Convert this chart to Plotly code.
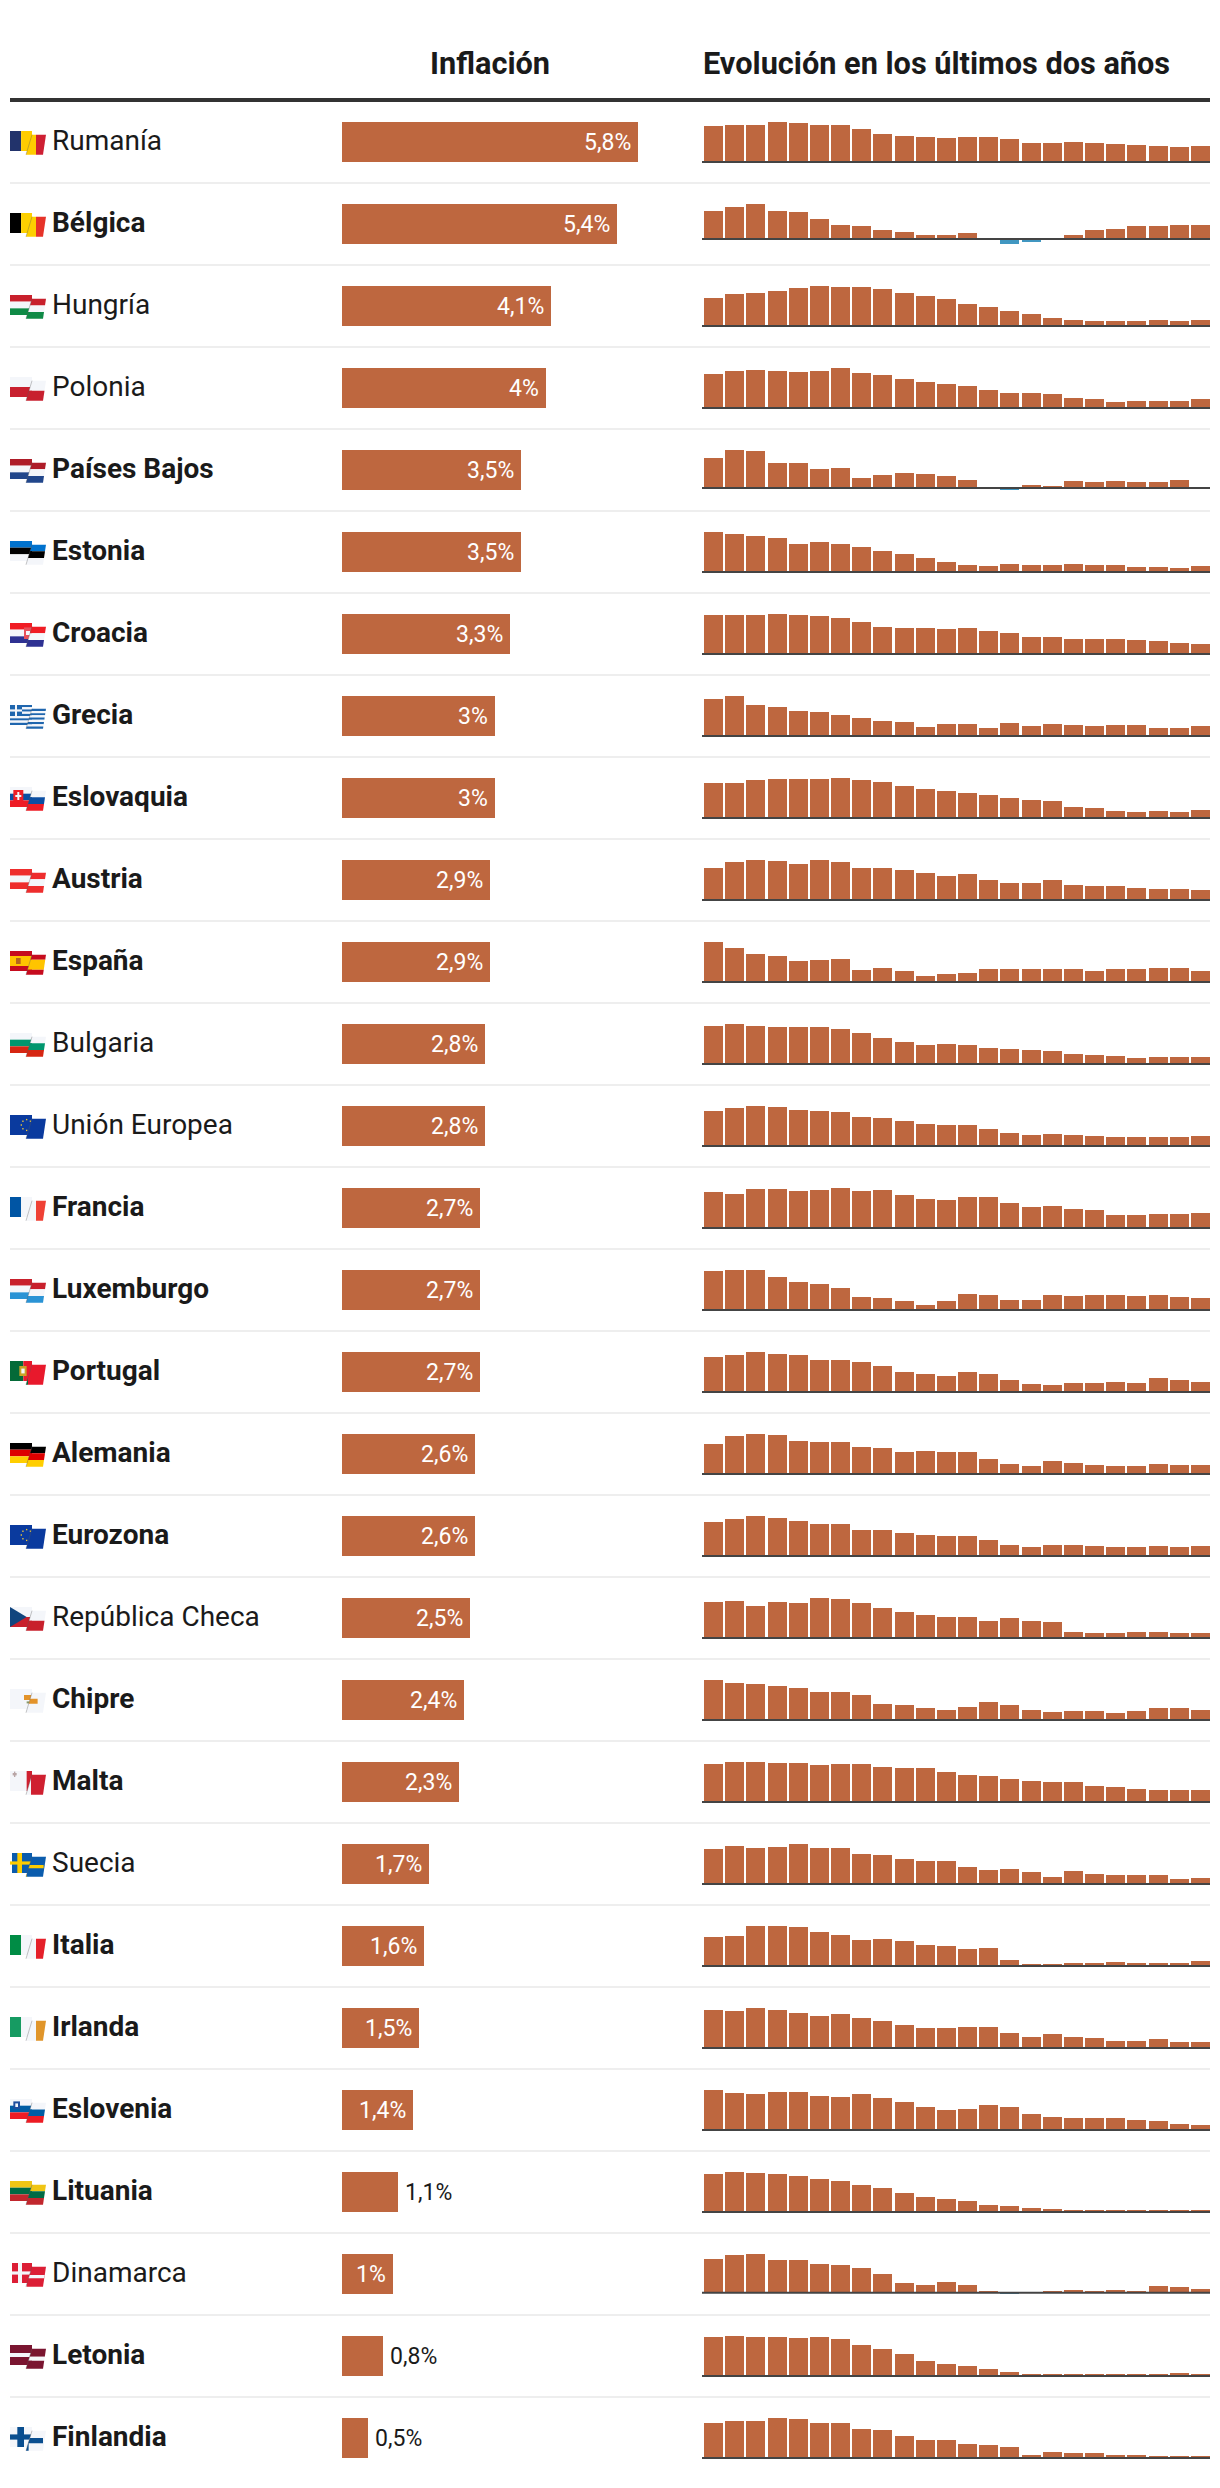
import plotly.graph_objects as go

W, H = 1220, 2488

countries = ["Rumanía","Bélgica","Hungría","Polonia","Países Bajos","Estonia","Croacia","Grecia","Eslovaquia","Austria",
             "España","Bulgaria","Unión Europea","Francia","Luxemburgo","Portugal","Alemania","Eurozona","República Checa",
             "Chipre","Malta","Suecia","Italia","Irlanda","Eslovenia","Lituania","Dinamarca","Letonia","Finlandia"]
inflation = [5.8,5.4,4.1,4,3.5,3.5,3.3,3,3,2.9,2.9,2.8,2.8,2.7,2.7,2.7,2.6,2.6,2.5,2.4,2.3,1.7,1.6,1.5,1.4,1.1,1,0.8,0.5]
not_bold = ["Rumanía","Hungría","Polonia","Bulgaria","Unión Europea","República Checa","Suecia","Dinamarca"]
outside_labels = ["Lituania","Letonia","Finlandia"]

rumania = [13.1,13.4,13.4,14.5,14.1,13.4,13.4,12.0,10.2,9.4,9.1,8.7,9.1,9.1,8.3,6.9,6.9,7.3,6.9,6.5,6.2,5.8,5.4,5.8]
belgica = [10.8,12.4,13.5,10.8,10.4,7.7,5.4,5.0,3.5,2.7,1.5,1.5,2.3,0.0,-1.9,-1.2,0.0,1.5,3.5,3.9,5.0,5.0,5.4,5.4]
hungria = [19.6,22.4,23.1,24.5,26.6,28.0,27.3,27.3,25.9,23.1,21.0,18.9,15.4,13.3,10.5,8.4,5.6,4.2,3.5,3.5,3.5,4.2,3.5,4.2]
polonia = [15.3,16.7,17.1,16.7,16.2,16.7,18.0,15.8,14.9,13.1,11.7,10.8,9.9,8.1,6.8,6.8,6.3,4.5,4.1,2.7,3.2,3.2,3.2,4.0]
paises_bajos = [13.5,17.1,16.7,11.3,11.3,8.6,9.0,4.5,5.9,6.8,6.3,5.4,3.6,0.0,-0.9,1.4,0.9,3.2,2.7,3.2,2.7,2.7,3.6,0.0]
estonia = [24.0,22.8,21.6,20.4,16.8,18.0,16.8,15.0,12.6,10.8,8.4,6.0,4.2,3.6,4.8,4.2,4.2,4.8,4.2,4.2,3.0,3.0,2.4,3.5]
croacia = [12.9,12.9,12.9,13.2,12.9,12.5,11.9,10.6,8.9,8.6,8.6,8.3,8.6,7.6,6.9,5.6,5.6,5.0,5.0,5.0,4.6,4.3,3.6,3.3]
grecia = [11.1,12.0,9.3,8.7,7.5,7.2,6.3,5.4,4.5,4.2,2.7,3.6,3.6,2.4,3.9,3.0,3.6,3.3,3.0,3.3,3.3,2.4,2.4,3.0]
eslovaquia = [13.3,13.3,14.4,14.8,14.8,14.8,15.2,14.4,13.7,12.2,11.0,10.3,9.5,8.7,7.6,6.8,6.5,4.2,3.8,2.7,2.3,2.7,2.3,3.0]
austria = [9.3,11.0,11.6,11.3,10.4,11.6,11.0,9.3,9.3,8.7,7.8,7.0,7.5,5.8,4.9,4.9,5.8,4.4,4.1,4.1,3.5,3.2,3.2,2.9]
espana = [10.5,9.0,7.4,6.9,5.5,5.8,6.1,3.2,3.7,2.9,1.6,2.1,2.4,3.4,3.4,3.4,3.4,3.4,2.9,3.4,3.4,3.7,3.7,2.9]
bulgaria = [15.2,16.0,15.2,14.8,14.8,14.8,14.0,12.4,10.4,8.8,7.6,8.0,7.6,6.4,6.0,5.6,5.2,4.0,3.6,3.2,2.4,2.8,2.8,2.8]
union_europea = [9.8,10.6,11.2,10.9,10.1,9.8,9.5,8.1,7.8,7.0,6.2,5.9,5.9,4.8,3.6,3.1,3.4,3.1,2.8,2.5,2.5,2.5,2.5,2.8]
francia = [6.5,6.1,7.0,7.0,6.7,6.8,7.2,6.7,6.8,5.9,5.2,5.0,5.6,5.6,4.5,3.8,4.0,3.4,3.2,2.3,2.3,2.5,2.5,2.7]
luxemburgo = [8.8,9.0,9.0,7.4,6.3,5.9,5.0,2.9,2.7,2.0,1.1,2.0,3.6,3.4,2.3,2.3,3.4,3.2,3.4,3.4,3.2,3.4,2.9,2.7]
portugal = [9.5,10.0,10.8,10.3,10.0,8.6,8.6,8.1,7.0,5.4,4.9,4.3,5.4,4.9,3.2,2.2,1.9,2.4,2.4,2.7,2.4,3.8,3.2,2.7]
alemania = [8.7,11.0,11.6,11.3,9.5,9.2,9.2,7.8,7.5,6.4,6.7,6.4,6.4,4.3,2.9,2.3,3.8,3.2,2.6,2.3,2.3,2.9,2.6,2.6]
eurozona = [9.0,9.8,10.6,10.1,9.3,8.5,8.5,6.9,6.9,6.1,5.6,5.3,5.3,4.2,2.9,2.4,2.9,2.9,2.7,2.4,2.4,2.7,2.4,2.6]
rep_checa = [17.3,17.8,15.4,17.3,16.8,19.2,18.7,16.8,14.4,12.5,11.0,10.1,10.1,8.2,9.6,8.2,7.7,2.9,2.4,2.4,2.9,2.9,2.4,2.5]
chipre = [9.6,8.9,8.6,8.2,7.7,6.7,6.7,6.0,3.8,3.6,2.9,2.4,3.1,4.3,3.6,2.4,1.9,2.2,2.2,1.7,2.2,2.9,2.9,2.4]
malta = [7.3,7.7,7.7,7.5,7.5,7.1,7.3,7.3,6.7,6.5,6.5,5.8,5.2,5.0,4.4,4.0,3.8,3.8,3.1,2.9,2.5,2.3,2.3,2.3]
suecia = [9.9,10.8,10.2,10.5,11.3,10.2,10.2,8.5,8.2,7.1,6.5,6.5,4.8,4.0,4.2,3.4,2.0,3.7,2.8,2.5,2.5,2.5,1.4,1.7]
italia = [9.3,9.6,12.8,12.8,12.5,10.9,9.9,8.3,8.6,8.0,6.7,6.4,5.4,5.8,1.9,0.6,0.6,1.0,1.0,1.3,1.0,1.0,1.0,1.6]
irlanda = [9.5,9.3,10.0,9.5,8.8,8.0,8.5,7.5,6.8,5.8,5.0,5.0,5.3,5.3,3.8,2.8,3.5,2.8,2.5,1.8,1.8,2.3,1.5,1.5]
eslovenia = [11.2,10.4,10.1,10.6,10.6,9.5,9.2,10.1,9.0,7.8,6.4,5.6,5.9,7.0,6.4,4.5,3.6,3.4,3.4,3.4,2.8,2.5,1.7,1.4]
lituania = [20.9,22.0,21.5,20.9,19.8,18.2,17.1,14.9,13.2,10.5,8.3,7.2,6.1,3.9,3.3,2.2,1.7,1.1,1.1,0.6,0.6,1.1,1.1,1.1]
dinamarca = [8.5,9.5,9.8,8.3,8.3,7.3,7.0,6.3,4.8,2.5,2.0,2.8,2.0,0.5,-0.3,0.0,0.5,0.8,0.5,0.8,0.5,1.8,1.5,1.0]
letonia = [21.5,22.0,21.5,21.5,20.9,21.5,20.4,17.1,14.9,12.1,8.3,6.6,5.5,3.9,2.2,1.1,1.1,1.1,0.6,1.1,1.1,0.6,1.7,0.8]
finlandia = [8.8,9.3,9.3,10.0,9.8,8.8,8.8,7.3,7.0,5.5,4.5,4.5,3.5,3.3,2.8,0.8,1.5,1.3,1.3,0.8,0.8,0.5,0.5,0.5]

series = [rumania,belgica,hungria,polonia,paises_bajos,estonia,croacia,grecia,eslovaquia,austria,espana,bulgaria,
          union_europea,francia,luxemburgo,portugal,alemania,eurozona,rep_checa,chipre,malta,suecia,italia,irlanda,
          eslovenia,lituania,dinamarca,letonia,finlandia]
months = list(range(24))

BAR = "#BE673F"
NEG = "#4197C1"
AXIS = "#444444"
RULE = "#333333"
SEP = "#EEEEEE"
INK = "#1A1A1A"
FONT = "Roboto"
ROW = 82
TOP = 101

px = lambda x: x / W
py = lambda y: 1 - y / H

# ---------- flags: rectangles/polygons in a flat (u, v) flag space, folded into two pieces
def rect(c, u0, u1, v0, v1, piece="LR"):
    return (c, [(u0, v0), (u1, v0), (u1, v1), (u0, v1)], piece)

def hs(*cols, w=None):
    w = w or [1] * len(cols)
    t = sum(w); out = []; a = 0
    for c, k in zip(cols, w):
        out.append(rect(c, 0, 1, a / t, (a + k) / t)); a += k
    return out

def vs(*cols):
    n = len(cols)
    return [rect(c, i / n, (i + 1) / n, 0, 1) for i, c in enumerate(cols)]

WH = "#F4F6FA"
def stars():
    pts = [(0, -1), (.7, -.7), (1, 0), (.7, .7), (0, 1), (-.7, .7), (-1, 0), (-.7, -.7)]
    return [rect("#E8C23A", .5 + a * .16 - .02, .5 + a * .16 + .02, .5 + b * .27 - .035, .5 + b * .27 + .035, "L") for a, b in pts]

flags = {
 "Rumanía": vs("#22336B", "#FFCC00", "#CE1F33"),
 "Bélgica": vs("#000000", "#FDD000", "#E63329"),
 "Hungría": hs("#C8202C", WH, "#0F8A46"),
 "Polonia": hs(WH, "#C8202F"),
 "Países Bajos": hs("#AE1C28", WH, "#21468B"),
 "Estonia": hs("#0072CE", "#000000", WH),
 "Croacia": hs("#F01C24", WH, "#2E3192") + [rect("#E8505A", .42, .68, .22, .8, "L"), rect(WH, .48, .6, .4, .6, "L")],
 "Grecia": hs(*["#1F66AE", WH] * 4, "#1F66AE") + [rect("#1F66AE", 0, .36, 0, .55), rect(WH, .15, .21, 0, .55), rect(WH, 0, .36, .22, .33)],
 "Eslovaquia": hs(WH, "#0B4EA2", "#EE1C25") + [rect("#EE1C25", .1, .4, .15, .8, "L"), rect(WH, .22, .28, .25, .65, "L"), rect(WH, .16, .34, .4, .5, "L")],
 "Austria": hs("#EE2D2D", WH, "#EE2D2D"),
 "España": hs("#C60B1E", "#FFC400", "#C60B1E", w=[1, 2, 1]) + [rect("#B5651D", .18, .32, .35, .65, "L")],
 "Bulgaria": hs(WH, "#00966E", "#D62612"),
 "Unión Europea": [rect("#0A3A9E", 0, 1, 0, 1)] + stars(),
 "Francia": vs("#0055A4", WH, "#EF4135"),
 "Luxemburgo": hs("#C8202C", WH, "#2A93D5"),
 "Portugal": [rect("#046A38", 0, .4, 0, 1), rect("#E8192C", .4, 1, 0, 1), rect("#C9A227", .28, .5, .25, .75, "L"), rect(WH, .34, .44, .38, .62, "L")],
 "Alemania": hs("#000000", "#DD0000", "#FFCE00"),
 "Eurozona": [rect("#0A3A9E", 0, 1, 0, 1)] + stars(),
 "República Checa": hs(WH, "#C8202C") + [("#11457E", [(0, 0), (.5, .5), (0, 1)], "L")],
 "Chipre": [rect(WH, 0, 1, 0, 1), rect("#E3932A", .42, .72, .3, .55), rect("#8A9A6A", .5, .62, .62, .72, "L")],
 "Malta": [rect(WH, 0, .5, 0, 1), rect("#CF2030", .5, 1, 0, 1), rect("#B9A5A5", .08, .2, .1, .22, "L"), rect("#B9A5A5", .12, .16, .03, .3, "L")],
 "Suecia": [rect("#0B5CAD", .06, 1, 0, 1), rect("#FECC00", .22, .36, -.1, 1.05), rect("#FECC00", 0, .92, .42, .58)],
 "Italia": vs("#008C45", WH, "#E5202A"),
 "Irlanda": vs("#169B62", WH, "#E0952A"),
 "Eslovenia": hs(WH, "#005DA4", "#ED1C24") + [rect("#1F4E9E", .1, .3, .12, .5, "L"), rect(WH, .16, .24, .22, .4, "L")],
 "Lituania": hs("#F0C514", "#006A44", "#C1272D"),
 "Dinamarca": [rect("#DC1E35", .06, 1, 0, 1), rect(WH, .24, .36, 0, 1), rect(WH, .06, 1, .42, .58)],
 "Letonia": hs("#7A1530", WH, "#7A1530", w=[2, 1, 2]),
 "Finlandia": [rect(WH, 0, 1, 0, 1), rect("#0A4E8F", .22, .42, 0, 1), rect("#0A4E8F", 0, .9, .37, .63)],
}

def clip(poly, window):
    out = poly
    n = len(window)
    for i in range(n):
        ax, ay = window[i]; bx, by = window[(i + 1) % n]
        side = lambda p: (bx - ax) * (p[1] - ay) - (by - ay) * (p[0] - ax)
        inp, out = out, []
        for j in range(len(inp)):
            p, q = inp[j], inp[(j + 1) % len(inp)]
            sp, sq = side(p), side(q)
            if sp >= 0: out.append(p)
            if sp * sq < 0:
                t = sp / (sp - sq)
                out.append((p[0] + t * (q[0] - p[0]), p[1] + t * (q[1] - p[1])))
        if not out: return []
    return out

def poly_path(pts):
    return "M " + " L ".join(f"{px(x):.5f},{py(y):.5f}" for x, y in pts) + " Z"

shapes = []
def add_flag(name, i):
    dy = ROW * i
    top_l, top_r = 131 + dy, 134.7 + dy
    left_win = [(10, top_l), (32, top_l), (32, top_l + 20), (10, top_l + 20)]
    right_win = [(32, top_r), (46, top_r), (43, top_r + 20), (26, top_r + 20)]
    for key, win, fx, y0 in (("L", left_win, lambda u: 10 + 33.3 * u, top_l),
                             ("R", right_win, lambda u: 36 + 30 * (u - 2 / 3), top_r)):
        for c, uv, piece in flags[name]:
            if key not in piece:
                continue
            pts = clip([(fx(u), y0 + 20 * v) for u, v in uv], win)
            if len(pts) >= 3:
                shapes.append(dict(type="path", xref="paper", yref="paper", path=poly_path(pts),
                                   fillcolor=c, line=dict(width=0), layer="above"))
    shapes.append(dict(type="line", xref="paper", yref="paper", x0=px(32), x1=px(26), y0=py(top_r), y1=py(top_r + 20),
                       line=dict(color="rgba(90,90,90,0.35)", width=1), layer="above"))

# ---------- figure
fig = go.Figure()
fig.add_trace(go.Bar(x=inflation, y=countries, orientation="h", width=40 / ROW, marker=dict(color=BAR, line=dict(width=0)),
                     hoverinfo="x+y", xaxis="x", yaxis="y"))

layout = dict(
    width=W, height=H, margin=dict(l=0, r=0, t=0, b=0), paper_bgcolor="white", plot_bgcolor="rgba(0,0,0,0)",
    showlegend=False, bargap=0, hovermode="closest", font=dict(family=FONT, color=INK),
    xaxis=dict(domain=[px(342), px(342 + 51 * 6)], range=[0, 6], visible=False, fixedrange=True),
    yaxis=dict(domain=[py(TOP + ROW * 29), py(TOP)], range=[28.5, -0.5], type="category", categoryorder="array",
               categoryarray=countries, visible=False, fixedrange=True),
)

annotations = [
    dict(text="<b>Inflación</b>", x=px(490), y=py(63.5), xref="paper", yref="paper", xanchor="center", yanchor="middle",
         showarrow=False, font=dict(size=30.7, family=FONT, color=INK)),
    dict(text="<b>Evolución en los últimos dos años</b>", x=px(701), y=py(63.5), xref="paper", yref="paper", xanchor="left",
         yanchor="middle", showarrow=False, font=dict(size=30.7, family=FONT, color=INK)),
]

shapes.append(dict(type="line", xref="paper", yref="paper", x0=px(10), x1=px(1210), y0=py(100), y1=py(100),
                   line=dict(color=RULE, width=4)))

PANEL = 40    # panel height for the row's own scale
SPARE = 3     # room below so the 2-wide baseline is not clipped at the panel edge

for i, name in enumerate(countries):
    n = i + 2
    vals = series[i]
    y_bottom = 122 + PANEL + ROW * i
    lo, hi = min(0, min(vals)), max(vals)
    layout[f"xaxis{n}"] = dict(domain=[px(703), px(1211)], range=[-0.5, 23.5], visible=False, fixedrange=True, anchor=f"y{n}")
    layout[f"yaxis{n}"] = dict(domain=[py(y_bottom + SPARE), py(y_bottom - PANEL)],
                               range=[lo - (hi - lo) * SPARE / PANEL, hi],
                               visible=False, fixedrange=True, anchor=f"x{n}")
    fig.add_trace(go.Bar(x=months, y=vals, width=0.9, xaxis=f"x{n}", yaxis=f"y{n}",
                         marker=dict(color=[BAR if v >= 0 else NEG for v in vals], line=dict(width=0)), hoverinfo="y"))
    shapes.append(dict(type="line", xref="paper", yref=f"y{n}", x0=px(702), x1=px(1210), y0=0, y1=0,
                       line=dict(color=AXIS, width=2), layer="above"))
    if i < len(countries) - 1:
        sep = 183 + ROW * i
        shapes.append(dict(type="line", xref="paper", yref="paper", x0=px(10), x1=px(1210), y0=py(sep), y1=py(sep),
                           line=dict(color=SEP, width=2)))
    label = name if name in not_bold else f"<b>{name}</b>"
    annotations.append(dict(text=label, x=px(50), y=name, xref="paper", yref="y", xanchor="left", yanchor="middle",
                            yshift=2, showarrow=False, font=dict(size=28, family=FONT, color=INK)))
    txt = f"{inflation[i]:g}".replace(".", ",") + "%"
    out = name in outside_labels
    annotations.append(dict(text=txt, x=inflation[i], y=name, xref="x", yref="y", xanchor="left" if out else "right",
                            yanchor="middle", xshift=5 if out else -5, showarrow=False,
                            font=dict(size=23, family=FONT, color=INK if out else "white")))
    add_flag(name, i)

layout["annotations"] = annotations
layout["shapes"] = shapes
fig.update_layout(**layout)
fig.write_html("out.html", config={"displayModeBar": False}, post_script="document.body.style.margin='0';")
